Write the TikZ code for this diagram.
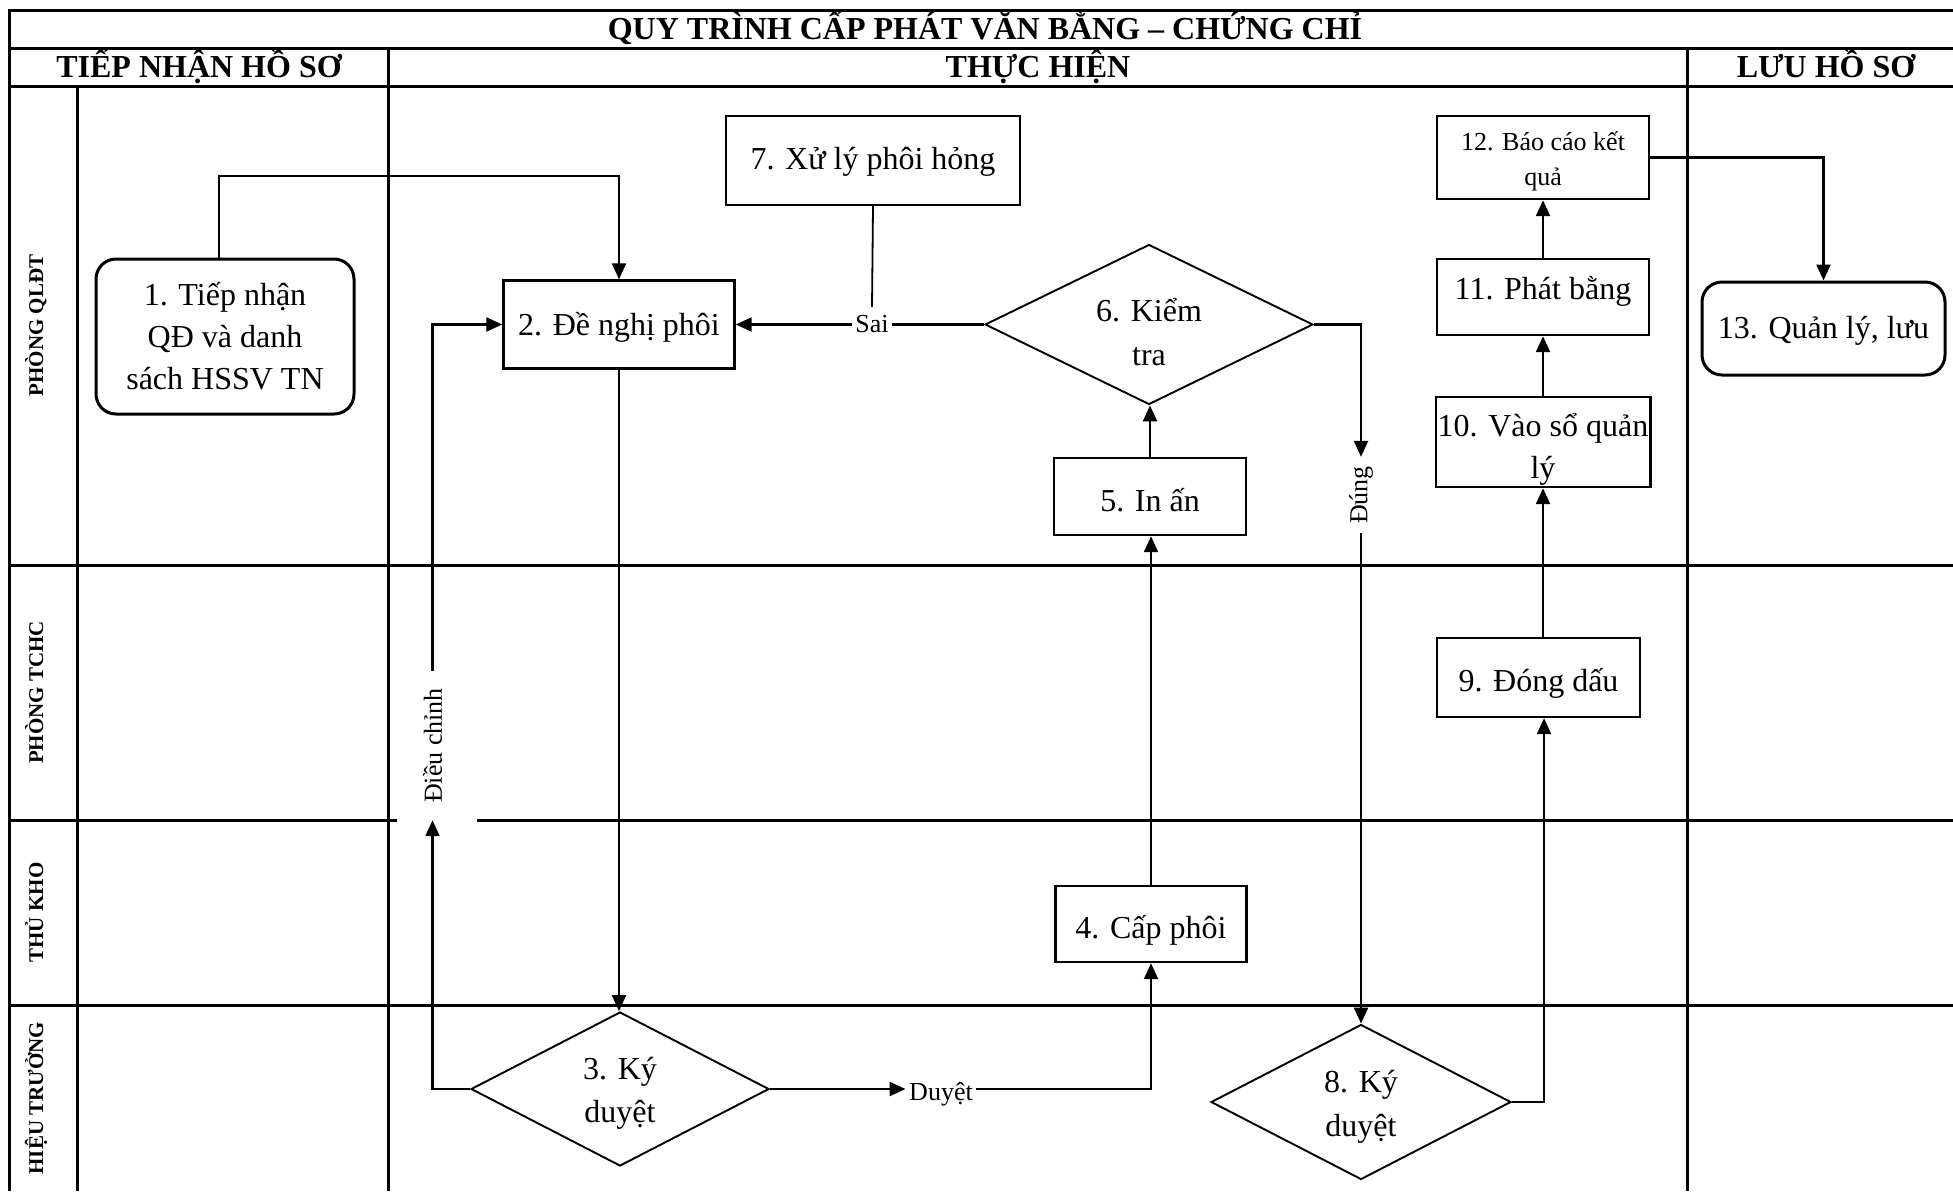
\documentclass[tikz,border=0pt]{standalone}
\usepackage{fontspec}
\setmainfont{Liberation Serif}
\usetikzlibrary{arrows.meta,shapes.geometric}
\newcommand\tdown[2]{\raisebox{-#1}[\height][\depth]{#2}}
\newcommand\topstrut[1]{\rule{0pt}{#1}}
\newcommand\botstrut[1]{\rule[-#1]{0pt}{#1}}
\begin{document}
\begin{tikzpicture}[x=1pt,y=-1pt,
  lane/.style={line width=3pt},
  conn/.style={line width=2.3pt},
  arr/.style={conn,-{Triangle[length=16pt,width=14pt]}},
  box/.style={draw,line width=2.4pt,align=center,inner sep=2pt,font=\fontsize{32}{42}\selectfont},
  rbox/.style={box,rounded corners=20pt,line width=3pt},
  dia/.style={draw,diamond,shape aspect=2,line width=1.9pt,inner sep=-30pt,align=center,font=\fontsize{32}{43.5}\selectfont},
  lbl/.style={inner xsep=3.5pt,inner ysep=2pt,font=\fontsize{26}{30}\selectfont},
  lanelbl/.style={rotate=90,anchor=base,font=\bfseries\fontsize{21}{25}\selectfont},
  hdr/.style={anchor=base,font=\bfseries\fontsize{32}{36}\selectfont}]

\useasboundingbox (0,0) rectangle (1953,1191);
\fill[white] (0,0) rectangle (1953,1191);

% frame and lanes
\draw[lane] (9,1191) -- (9,10) -- (1953,10);
\draw[lane] (9,48) -- (1953,48);
\draw[lane] (9,86) -- (1953,86);
\draw[lane] (9,565) -- (1953,565);
\draw[lane] (9,820) -- (397,820);
\draw[lane] (477,820) -- (1953,820);
\draw[lane] (9,1005) -- (1953,1005);
\draw[lane] (77,86) -- (77,1191);
\draw[lane] (388,48) -- (388,1191);
\draw[lane] (1687,48) -- (1687,1191);

% titles
\node[hdr] (title) at (985,39) {QUY TRÌNH CẤP PHÁT VĂN BẰNG – CHỨNG CHỈ};
\node[hdr] (h1) at (199,77) {TIẾP NHẬN HỒ SƠ};
\node[hdr] (h2) at (1038,77) {THỰC HIỆN};
\node[hdr] (h3) at (1826,77) {LƯU HỒ SƠ};

% lane labels
\node[lanelbl] (l1) at (43,325.5) {PHÒNG QLĐT};
\node[lanelbl] (l2) at (43,692.5) {PHÒNG TCHC};
\node[lanelbl] (l3) at (43,912.5) {THỦ KHO};
\node[lanelbl] (l4) at (43,1098) {HIỆU TRƯỞNG};

% steps
\node[rbox,minimum width=258pt,minimum height=155pt] (b1) at (225,336.5) {1. Tiếp nhận\\QĐ và danh\\sách HSSV TN};
\node[box,minimum width=231pt,minimum height=88pt] (b2) at (619,324.5) {\tdown{2.5pt}{2. Đề nghị phôi}};
\node[box,minimum width=294pt,minimum height=89pt] (b7) at (873,160.5) {\tdown{1pt}{7. Xử lý phôi hỏng}};
\node[dia,minimum width=328pt,minimum height=160pt] (d6) at (1149,324.5) {\topstrut{48pt}6. Kiểm\\tra\botstrut{10pt}};
\node[box,minimum width=192pt,minimum height=77pt] (b5) at (1150,496.5) {\tdown{3.7pt}{5. In ấn}};
\node[box,minimum width=191pt,minimum height=76pt] (b4) at (1151,924) {\tdown{6pt}{4. Cấp phôi}};
\node[dia,minimum width=298pt,minimum height=154pt] (d3) at (620,1089) {\topstrut{34pt}3. Ký\\duyệt\botstrut{10pt}};
\node[dia,minimum width=300pt,minimum height=155pt] (d8) at (1361,1102) {\topstrut{35pt}8. Ký\\duyệt\botstrut{10pt}};
\node[box,minimum width=203pt,minimum height=79pt] (b9) at (1538.5,677.5) {\tdown{6pt}{9. Đóng dấu}};
\node[box,minimum width=212pt,minimum height=90pt,inner ysep=-12pt] (b10) at (1543,442) {\topstrut{41.5pt}10. Vào sổ quản\\lý\botstrut{10pt}};
\node[box,minimum width=212pt,minimum height=76pt] (b11) at (1543,297) {\tdown{-6pt}{11. Phát bằng}};
\node[box,minimum width=212pt,minimum height=83pt,inner ysep=-8pt,font=\fontsize{26}{35}\selectfont] (b12) at (1543,157.5) {\topstrut{29.5pt}12. Báo cáo kết\\quả\botstrut{8pt}};
\node[rbox,minimum width=243pt,minimum height=93pt] (b13) at (1823.5,328.5) {\tdown{2.5pt}{13. Quản lý, lưu}};

% connector labels
\node[lbl,minimum height=35pt] (sai) at (872,324.5) {Sai};
\node[lbl] (duyet) at (941,1089) {\tdown{5pt}{Duyệt}};
\node[lbl,rotate=90,minimum width=76pt] (dung) at (1361,495) {Đúng};
\node[lbl,rotate=90,minimum width=149pt] (dc) at (432.5,745.5) {Điều chỉnh};

% connectors
\draw[arr] ([xshift=-6pt]b1.north) -- ++(0,-81.5) -| (b2.north);
\draw[arr] (b2.south) -- (b2.south |- d3.north);
\draw[arr] (d3.west) -| (dc.west);
\draw[arr] (dc.east) |- (b2.west);
\draw[arr] (d3.east) -- (duyet.west);
\draw[arr] (duyet.east) -| (b4.south);
\draw[arr] (b4.north) -- (b4.north |- b5.south);
\draw[arr] (b5.north) -- (b5.north |- d6.south);
\draw[conn] (d6.west) -- (sai.east);
\draw[arr] (sai.west) -- (b2.east);
\draw[conn,line width=1.8pt] (b7.south) -- (sai.north);
\draw[arr] (d6.east) -| (dung.east);
\draw[arr] (dung.west) -- (d8.north);
\draw[arr] (d8.east) -| ([xshift=5.5pt]b9.south);
\draw[arr] (b10.south |- b9.north) -- (b10.south);
\draw[arr] (b10.north) -- (b11.south);
\draw[arr] (b11.north) -- (b12.south);
\draw[arr] (b12.east) -| (b13.north);
\end{tikzpicture}
\end{document}
